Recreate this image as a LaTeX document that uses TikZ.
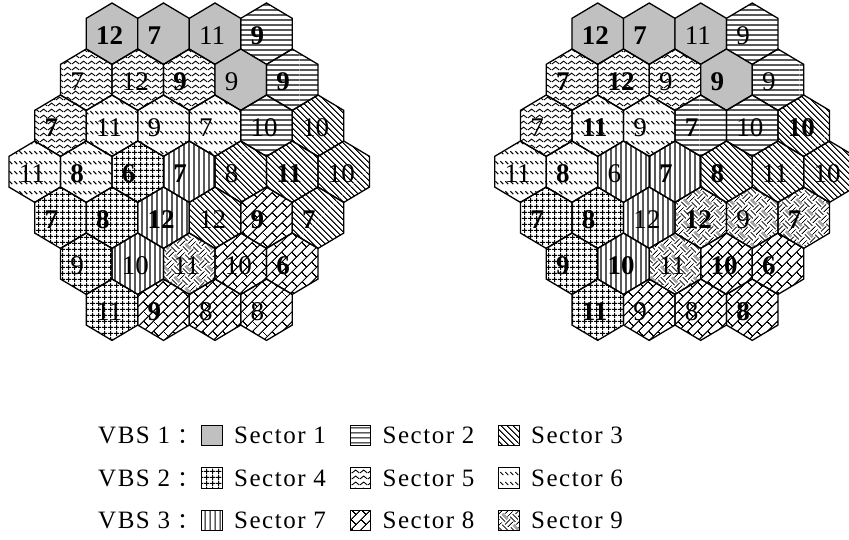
\documentclass[tikz,border=0pt]{standalone}
\usepackage{fontspec}
\setmainfont{Liberation Serif}
\newfontfamily\cjk{Noto Sans CJK SC}
\newfontfamily\lgdfont[LetterSpace=6]{Liberation Serif}
\usepackage{xcolor}
\usepackage{tikz}
\usetikzlibrary{patterns,patterns.meta,positioning}
\definecolor{secGray}{RGB}{192,192,192}

% hatchings of the nine sectors
\tikzdeclarepattern{name=hatchH,type=uncolored,
  bottom left={(0pt,0pt)},top right={(100pt,4.5pt)},tile size={(100pt,4.5pt)},
  code={\draw[line width=1.25pt] (0pt,2.25pt) -- (100pt,2.25pt);}}
\tikzdeclarepattern{name=hatchV,type=uncolored,
  bottom left={(0pt,0pt)},top right={(4.5pt,100pt)},tile size={(4.5pt,100pt)},
  code={\draw[line width=1.25pt] (2.25pt,0pt) -- (2.25pt,100pt);}}
\tikzdeclarepattern{name=hatchNW,type=uncolored,
  bottom left={(0pt,0pt)},top right={(100pt,4.2pt)},tile size={(100pt,4.2pt)},
  tile transformation={rotate=-45},
  code={\draw[line width=1.1pt] (0pt,2.1pt) -- (100pt,2.1pt);}}
\tikzdeclarepattern{name=hatchGrid,type=uncolored,
  bottom left={(0pt,0pt)},top right={(6pt,6pt)},tile size={(6pt,6pt)},
  code={\draw[line width=1.2pt] (0pt,3pt) -- (6pt,3pt) (3pt,0pt) -- (3pt,6pt);}}
\tikzdeclarepattern{name=hatchWave,type=uncolored,
  bottom left={(0pt,0pt)},top right={(8pt,6pt)},tile size={(8pt,6pt)},
  code={\draw[line width=1pt] (0pt,1.2pt) .. controls (2pt,1.2pt) and (2pt,4.4pt) .. (4pt,4.4pt)
    .. controls (6pt,4.4pt) and (6pt,1.2pt) .. (8pt,1.2pt);}}
\tikzdeclarepattern{name=hatchDash,type=uncolored,
  bottom left={(0pt,0pt)},top right={(4.5pt,10pt)},tile size={(4.5pt,10pt)},
  code={\draw[line width=1.1pt] (0.4pt,8.4pt) -- (3.6pt,5.2pt);}}
\tikzdeclarepattern{name=hatchBrick,type=uncolored,
  bottom left={(0pt,0pt)},top right={(14pt,14pt)},tile size={(14pt,14pt)},
  tile transformation={rotate=45},
  code={\draw[line width=1.1pt] (0pt,3.5pt) -- (14pt,3.5pt) (0pt,10.5pt) -- (14pt,10.5pt)
    (3.5pt,3.5pt) -- (3.5pt,10.5pt) (10.5pt,10.5pt) -- (10.5pt,14pt) (10.5pt,0pt) -- (10.5pt,3.5pt);}}
\tikzdeclarepattern{name=hatchWeave,type=uncolored,
  bottom left={(0pt,0pt)},top right={(16pt,16pt)},tile size={(16pt,16pt)},
  tile transformation={rotate=45},
  code={\draw[line width=.9pt] (0pt,2pt) -- (8pt,2pt) (0pt,6pt) -- (8pt,6pt)
    (10pt,0pt) -- (10pt,8pt) (14pt,0pt) -- (14pt,8pt)
    (2pt,8pt) -- (2pt,16pt) (6pt,8pt) -- (6pt,16pt)
    (8pt,10pt) -- (16pt,10pt) (8pt,14pt) -- (16pt,14pt);}}

% one cluster of 37 cells: #1 name, #2 x of the middle cell, #3 rows
\newcommand{\hexmap}[3]{%
  \foreach \ri/\cells in {#3} {
    \pgfmathtruncatemacro{\nc}{7-abs(\ri-3)}
    \foreach \s/\v/\w [count=\ci from 0] in \cells {
      \pgfmathsetmacro{\cx}{#2-(\nc-1)*25.75+\ci*51.5}
      \pgfmathsetmacro{\cy}{33.7+46*\ri}
      \path[cell,sec\s] (\cx,\cy) +(0,-30.7) -- +(25.75,-15.35) -- +(25.75,15.35)
        -- +(0,30.7) -- +(-25.75,15.35) -- +(-25.75,-15.35) -- cycle;
      \node[num,\w] (#1-\ri-\ci) at (\cx-16,\cy+2) {\v};
    }
  }%
}

\begin{document}
\begin{tikzpicture}[x=1pt,y=-1pt,
    cell/.style={draw=black,line width=1.3pt},
    num/.style={anchor=west,inner sep=0pt,font=\fontsize{27pt}{29pt}\selectfont},
    bd/.style={font=\fontsize{27pt}{29pt}\selectfont\bfseries},
    rg/.style={},
    sec1/.style={fill=secGray},
    sec2/.style={pattern=hatchH},
    sec3/.style={pattern=hatchNW},
    sec4/.style={pattern=hatchGrid},
    sec5/.style={pattern=hatchWave},
    sec6/.style={pattern=hatchDash},
    sec7/.style={pattern=hatchV},
    sec8/.style={pattern=hatchBrick},
    sec9/.style={pattern=hatchWeave},
    key/.style={draw=black,line width=1.4pt,minimum size=20.5pt,inner sep=0pt},
    lgd/.style={anchor=base west,inner sep=0pt,font=\lgdfont\fontsize{25pt}{27pt}\selectfont}
  ]
  \useasboundingbox (0,0) rectangle (849,539);
  \clip (0,0) rectangle (849,539);

  % left cluster
  \hexmap{L}{189.25}{
    0/{1/12/bd,1/7/bd,1/11/rg,2/9/bd},
    1/{5/7/rg,5/12/rg,5/9/bd,1/9/rg,2/9/bd},
    2/{5/7/bd,6/11/rg,6/9/rg,6/7/rg,2/10/rg,3/10/rg},
    3/{6/11/rg,6/8/bd,4/6/bd,7/7/bd,3/8/rg,3/11/bd,3/10/rg},
    4/{4/7/bd,4/8/bd,7/12/bd,3/12/rg,8/9/bd,3/7/bd},
    5/{4/9/rg,7/10/rg,9/11/rg,8/10/rg,8/6/bd},
    6/{4/11/rg,8/9/bd,8/8/rg,8/8/rg}}

  % right cluster
  \hexmap{R}{674.95}{
    0/{1/12/bd,1/7/bd,1/11/rg,2/9/rg},
    1/{5/7/bd,5/12/bd,5/9/rg,1/9/bd,2/9/rg},
    2/{5/7/rg,6/11/bd,6/9/rg,2/7/bd,2/10/rg,3/10/bd},
    3/{6/11/rg,6/8/bd,7/6/rg,7/7/bd,3/8/bd,3/11/rg,3/10/rg},
    4/{4/7/bd,4/8/bd,7/12/rg,9/12/bd,9/9/rg,9/7/bd},
    5/{4/9/bd,7/10/bd,9/11/rg,8/10/bd,8/6/bd},
    6/{4/11/bd,8/9/rg,8/8/rg,8/8/bd}}

  % legend
  \foreach \s [evaluate=\s as \lc using {int(mod(\s-1,3))},
               evaluate=\s as \lr using {int((\s-1)/3)}] in {1,...,9} {
    \node[key,sec\s] (key\s) at (212+148.5*\lc,435.5+42.5*\lr) {};
    \node[lgd] (sector\s) at (234+148.5*\lc,443.5+42.5*\lr) {Sector \s};
  }
  \foreach \v in {1,2,3}
    \node[lgd] (vbs\v) at (98,443.5+42.5*\v-42.5)
      {VBS \v\hspace{7pt}{\cjk\fontsize{22pt}{24pt}\selectfont ：}};
\end{tikzpicture}
\end{document}
